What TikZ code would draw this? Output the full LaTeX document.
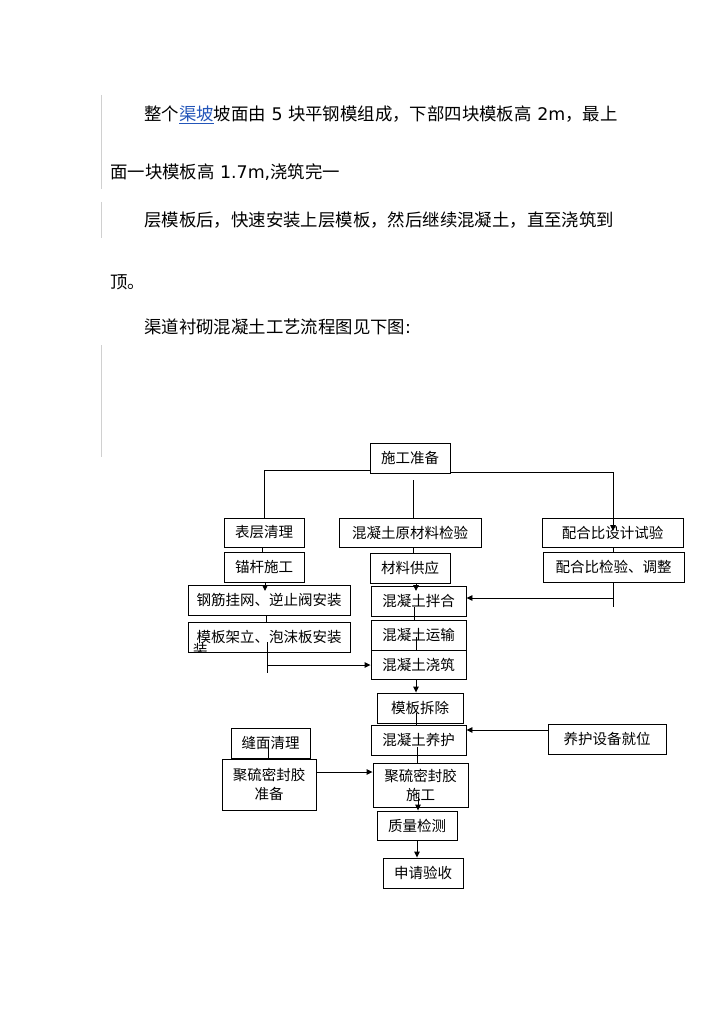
\documentclass[tikz,border=0pt]{standalone}
\usepackage{fontspec}
\setmainfont{Noto Sans CJK SC}
\newfontfamily\dv{DejaVu Sans}
\usetikzlibrary{arrows.meta,calc}
\definecolor{linkblue}{RGB}{35,85,185}
\definecolor{barg}{RGB}{208,208,208}
\tikzset{
  para/.style={anchor=west, inner sep=0pt, font=\fontsize{17.4}{20}\selectfont},
  box/.style={draw, line width=0.9pt, inner sep=0pt, align=center, font=\fontsize{14.5}{19}\selectfont},
  ln/.style={line width=0.9pt},
  arr/.style={line width=0.9pt, -{Triangle[length=6pt,width=5.5pt]}},
  bar/.style={barg, line width=1pt}
}
\newcommand\bx[6]{\node[box, minimum width={(#4-#2)*1pt}, minimum height={(#5-#3)*1pt}] (#1) at ({(#2+#4)/2},{(#3+#5)/2}) {#6};}
\begin{document}
\begin{tikzpicture}[x=1pt,y=-1pt]
\useasboundingbox[fill=white] (0,0) rectangle (724,1024);
% left bars
\coordinate (b1a) at (101.7,95);  \coordinate (b1b) at (101.7,189);
\coordinate (b2a) at (101.7,202); \coordinate (b2b) at (101.7,238);
\coordinate (b3a) at (101.7,345); \coordinate (b3b) at (101.7,457);
\draw[bar] (b1a) -- (b1b);
\draw[bar] (b2a) -- (b2b);
\draw[bar] (b3a) -- (b3b);
% paragraphs
\node[para] (p1) at (144,115) {整个\textcolor{linkblue}{\underline{渠坡}}坡面由{\dv\ 5\ }块平钢模组成，下部四块模板高{\dv\ 2m}，最上};
\node[para] (p2) at (110,172) {面一块模板高{\dv\ 1.7m,}浇筑完一};
\node[para] (p3) at (144,220) {层模板后，快速安装上层模板，然后继续混凝土，直至浇筑到};
\node[para] (p4) at (110,282) {顶。};
\node[para] (p5) at (144,327) {渠道衬砌混凝土工艺流程图见下图{\dv :}};
% boxes
\bx{prep}{370}{443}{450}{473}{施工准备}
\bx{clean}{224}{518}{304}{547}{表层清理}
\bx{raw}{339}{518}{481}{547}{混凝土原材料检验}
\bx{mixd}{542}{518}{683}{547}{配合比设计试验}
\bx{anchor}{224}{552}{304}{582}{锚杆施工}
\bx{supply}{370}{553}{450}{583}{材料供应}
\bx{mixc}{543}{552}{684}{582}{配合比检验、调整}
\bx{steel}{188}{585}{350}{615}{钢筋挂网、逆止阀安装}
\bx{mix}{371}{586}{466}{616}{混凝土拌合}
\bx{form}{188}{622}{350}{652}{\raisebox{2pt}{模板架立、泡沫板安装}}
\bx{trans}{371}{620}{466}{650}{混凝土运输}
\bx{pour}{371}{650}{466}{679}{混凝土浇筑}
\bx{remove}{377}{693}{463}{723}{模板拆除}
\bx{cure}{371}{725}{466}{755}{混凝土养护}
\bx{curedev}{548}{724}{666}{754}{养护设备就位}
\bx{joint}{231}{728}{310}{758}{缝面清理}
\bx{prepseal}{222}{759}{316}{810}{\raisebox{3pt}{\parbox{80pt}{\centering 聚硫密封胶\\准备}}}
\bx{seal}{373}{763}{468}{807}{聚硫密封胶\\施工}
\bx{qc}{377}{811}{457}{840}{质量检测}
\bx{accept}{383}{858}{463}{888}{申请验收}
% clipped overflow character
\begin{scope}
\clip (form.south west) rectangle (form.north east);
\node[inner sep=0pt, anchor=north west, font=\fontsize{14.5}{19}\selectfont] (formx) at (193,643) {装};
\end{scope}
% connector points
\coordinate (t1) at (613,531);
\coordinate (j1) at (613,598);
\coordinate (t2) at (613,607);
\coordinate (m0) at (413,480);
\coordinate (t3) at (265,591);
\coordinate (t4) at (416,591);
\coordinate (f1) at (267,642);
\coordinate (f2) at (267,673);
\coordinate (f3) at (267,665);
\coordinate (c1) at (414,607);
\coordinate (c2) at (416,637);
\coordinate (c3) at (416,713);
\coordinate (c4) at (417,747);
\coordinate (c5) at (268,747);
\coordinate (c6) at (418,797);
% connectors
\draw[ln] (prep.west |- 0,470) -| (clean.north);
\draw[arr] (prep.east |- 0,472) -| (t1);
\draw[ln] (m0) -- (raw.north -| m0);
\draw[ln] (mixd.south -| t1) -- (mixc.north -| t1);
\draw[ln] (mixc.south -| t2) -- (t2);
\draw[arr] (j1) -- (mix.east |- j1);
\draw[ln] (clean.south -| 262,0) -- (anchor.north -| 262,0);
\draw[arr] (anchor.south -| t3) -- (t3);
\draw[ln] (raw.south -| m0) -- (supply.north -| m0);
\draw[arr] (supply.south -| t4) -- (t4);
\draw[ln] (steel.south -| 266,0) -- (form.north -| 266,0);
\draw[ln] (f1) -- (f2);
\draw[arr] (f3) -- (pour.west |- f3);
\draw[ln] (c1) -- (trans.north -| c1);
\draw[ln] (c2) -- (trans.south -| c2);
\draw[arr] (pour.south -| c2) -- (remove.north -| c2);
\draw[ln] (c3) -- (cure.north -| c3);
\draw[arr] (curedev.west |- 0,730) -- (cure.east |- 0,730);
\draw[ln] (c4) -- (seal.north -| c4);
\draw[ln] (c5) -- (prepseal.north -| c5);
\draw[arr] (prepseal.east |- 0,772) -- (seal.west |- 0,772);
\draw[arr] (c6) -- (qc.north -| c6);
\draw[arr] (qc.south -| 417,0) -- (accept.north -| 417,0);
\end{tikzpicture}
\end{document}
